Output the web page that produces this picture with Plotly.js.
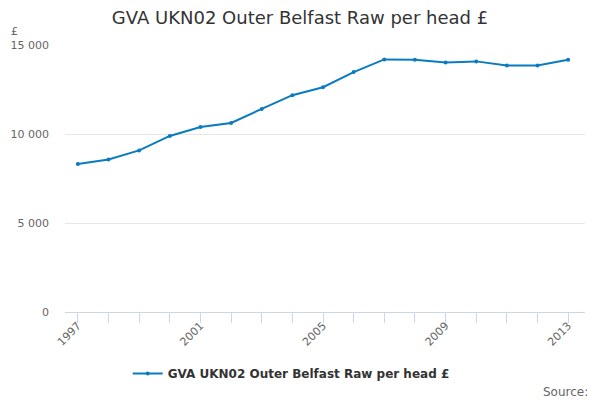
<!DOCTYPE html>
<html>
<head>
<meta charset="utf-8">
<script src="https://cdn.plot.ly/plotly-3.0.1.min.js"></script>
<style>html,body{margin:0;padding:0;background:#fff}#chart{width:600px;height:400px}</style>
</head>
<body>
<div id="chart"></div>
<script>
const years = [1997,1998,1999,2000,2001,2002,2003,2004,2005,2006,2007,2008,2009,2010,2011,2012,2013];
const gvaPerHead = [8310,8570,9080,9890,10395,10620,11410,12180,12630,13480,14190,14170,14020,14080,13850,13850,14170];
const seriesName = "GVA UKN02 Outer Belfast Raw per head £";
const chartTitle = "GVA UKN02 Outer Belfast Raw per head £";
const yTickVals = [0,5000,10000,15000];
const yTickText = ["0","5 000","10 000","15 000"];
const xLabelYears = [1997,2001,2005,2009,2013];

const font = "DejaVu Sans, Lucida Grande, sans-serif";
const trace = {
  x: years, y: gvaPerHead, name: seriesName, type: "scatter", mode: "lines+markers",
  line: {color: "#0a7bc1", width: 2},
  marker: {color: "#0a7bc1", size: 4}
};
const layout = {
  width: 600, height: 400,
  margin: {l: 65, r: 15, t: 45, b: 88},
  paper_bgcolor: "#fff", plot_bgcolor: "#fff",
  font: {family: font, color: "#666", size: 11},
  title: {text: chartTitle, x: 0.5, xanchor: "center", y: 0.955, yanchor: "middle",
          font: {family: font, size: 18, color: "#333"}},
  showlegend: true,
  legend: {orientation: "h", x: 0.435, xanchor: "center", y: -0.23, yanchor: "middle",
           font: {family: font, size: 12, color: "#333", weight: "bold"}},
  xaxis: {
    range: [1996.58, 2013.55], tickvals: years,
    ticktext: years.map(y => xLabelYears.includes(y) ? String(y) : ""),
    tickangle: -45, ticks: "outside", ticklen: 10, tickcolor: "#ccd6eb", tickwidth: 1,
    ticklabelstandoff: -8,
    showline: true, linecolor: "#ccd6eb", linewidth: 1, showgrid: false, zeroline: false,
    tickfont: {family: font, size: 11, color: "#666"}, fixedrange: true
  },
  yaxis: {
    range: [0, 15000], tickvals: yTickVals, ticktext: yTickText,
    showgrid: true, gridcolor: "#e6e6e6", gridwidth: 1, zeroline: false, showline: false,
    ticks: "", tickfont: {family: font, size: 11, color: "#666"}, ticklabelstandoff: 15
  },
  annotations: [
    {text: "£", xref: "paper", yref: "paper", x: -0.097, y: 1.05, xanchor: "center", yanchor: "middle",
     showarrow: false, font: {family: font, size: 11, color: "#666"}},
    {text: "Source:", xref: "paper", yref: "paper", x: 1.01, y: -0.3, xanchor: "right", yanchor: "middle",
     showarrow: false, font: {family: font, size: 12, color: "#666"}}
  ]
};
Plotly.newPlot("chart", [trace], layout, {displayModeBar: false, staticPlot: true});
</script>
</body>
</html>
